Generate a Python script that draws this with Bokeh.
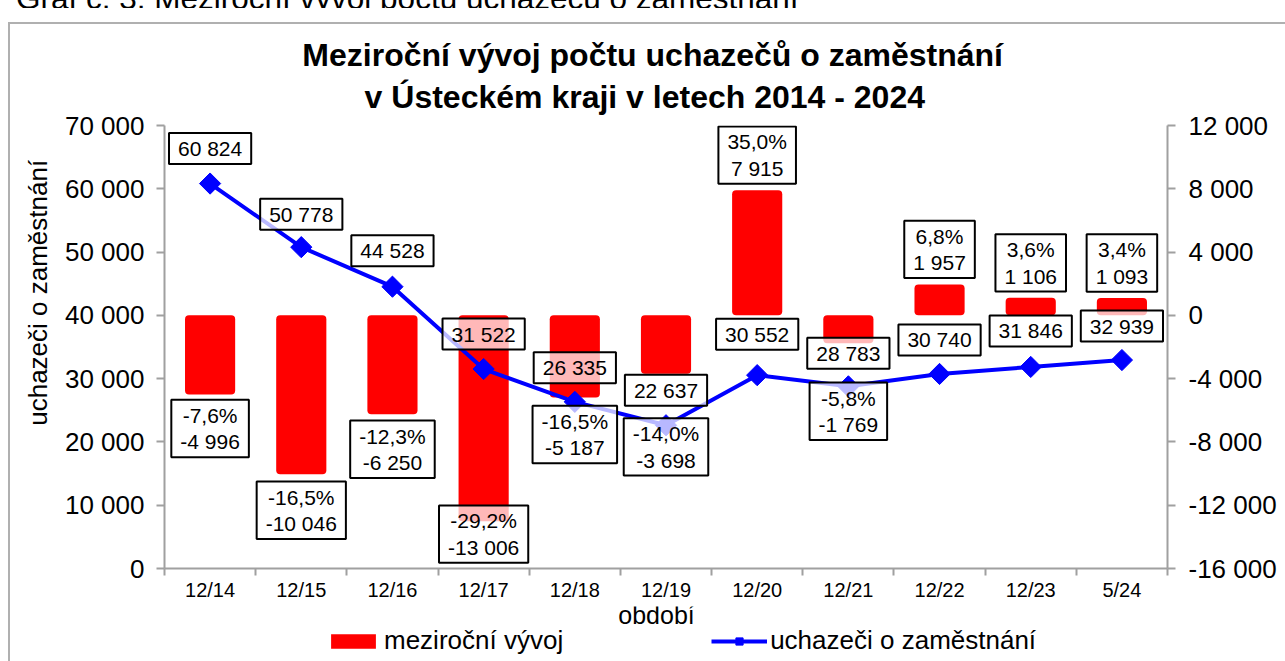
import math
from bokeh.plotting import figure
from bokeh.layouts import column
from bokeh.models import (Range1d, LinearAxis, FixedTicker, CustomJSTickFormatter,
                          ColumnDataSource, Legend, LegendItem, Title, Div, Label)
from bokeh.core.properties import value
from bokeh.embed import file_html
from bokeh.resources import INLINE

# ---- data ----
categories = ["12/14", "12/15", "12/16", "12/17", "12/18", "12/19",
              "12/20", "12/21", "12/22", "12/23", "5/24"]
uchazeci = [60824, 50778, 44528, 31522, 26335, 22637, 30552, 28783, 30740, 31846, 32939]
mezirocni = [-4996, -10046, -6250, -13006, -5187, -3698, 7915, -1769, 1957, 1106, 1093]
procenta = ["-7,6%", "-16,5%", "-12,3%", "-29,2%", "-16,5%", "-14,0%",
            "35,0%", "-5,8%", "6,8%", "3,6%", "3,4%"]
left_ticks = [0, 10000, 20000, 30000, 40000, 50000, 60000, 70000]
right_ticks = [-16000, -12000, -8000, -4000, 0, 4000, 8000, 12000]
header = "Graf č. 3: Meziroční vývoj počtu uchazečů o zaměstnání"
title1 = "Meziroční vývoj počtu uchazečů o zaměstnání"
title2 = "v Ústeckém kraji v letech 2014 - 2024"
y_label = "uchazeči o zaměstnání"
x_label = "období"
legend_bars = "meziroční vývoj"
legend_line = "uchazeči o zaměstnání"

# ---- label placement (screen px, positive = down) ----
line_label_dy = [-35, -33, -36, -35, -34, -35, -41, -33, -34, -36, -34]
bar_label_dy = [34, 36, 35, 13, 37, 73, -35, 68, -35, -35, -35]

FONT = "Liberation Sans"
NB = "\u00a0"
BORDER = "2px solid #b0b0b0"
RED, BLUE = "#FF0000", "#0000FF"

def fmt(v):
    return f"{v:,}".replace(",", " ")

n = len(categories)
xc = [i + 0.5 for i in range(n)]

src = ColumnDataSource(dict(
    x=xc, cat=categories, val=uchazeci, chg=mezirocni,
    val_txt=[fmt(v) for v in uchazeci],
    bar_txt=[f"{p}\n{fmt(c)}" for p, c in zip(procenta, mezirocni)],
    ldy=line_label_dy, bdy=bar_label_dy,
))

p = figure(frame_width=1001, frame_height=441, x_range=Range1d(0, n), y_range=Range1d(0, 70000),
           output_backend="svg", toolbar_location=None,
           min_border_left=154, min_border_right=120, min_border_top=101, min_border_bottom=40)
p.margin = (14, 0, 0, 8)
p.styles = {"border-top": BORDER, "border-left": BORDER}
p.title.visible = False
p.xgrid.visible = False
p.ygrid.visible = False
p.outline_line_color = None
p.background_fill_color = "white"
p.border_fill_color = "white"

p.extra_y_ranges = {"chg": Range1d(-16000, 12000)}

fmt_js = CustomJSTickFormatter(code="return tick.toFixed(0).replace(/\\B(?=(\\d{3})+(?!\\d))/g, ' ');")

AX_COL = "#a0a0a0"

def style_y(ax):
    ax.axis_line_color = AX_COL
    ax.axis_line_width = 2
    ax.major_tick_line_color = AX_COL
    ax.major_tick_line_width = 2
    ax.major_tick_out = 8
    ax.major_tick_in = 0
    ax.minor_tick_line_color = None
    ax.major_label_text_font = FONT
    ax.major_label_text_font_size = "26px"
    ax.major_label_text_color = "black"
    ax.major_label_standoff = 12
    ax.axis_label_text_font = FONT
    ax.axis_label_text_font_size = "26px"
    ax.axis_label_text_font_style = "normal"
    ax.axis_label_text_color = "black"

ya = p.yaxis[0]
ya.ticker = FixedTicker(ticks=left_ticks)
ya.formatter = fmt_js
# leading no-break spaces shift the centred label upward, as in the reference
ya.axis_label = NB * 15 + y_label
style_y(ya)
ya.axis_label_standoff = 9

ra = LinearAxis(y_range_name="chg", ticker=FixedTicker(ticks=right_ticks), formatter=fmt_js)
style_y(ra)
ra.major_label_standoff = 13
p.add_layout(ra, "right")

xa = p.xaxis[0]
xa.ticker = FixedTicker(ticks=xc, minor_ticks=list(range(n + 1)))
xa.major_label_overrides = {x: c for x, c in zip(xc, categories)}
xa.axis_line_color = AX_COL
xa.axis_line_width = 2
xa.major_tick_line_color = None
xa.major_tick_out = 0
xa.major_tick_in = 0
xa.minor_tick_line_color = AX_COL
xa.minor_tick_line_width = 2
xa.minor_tick_out = 7
xa.minor_tick_in = 0
xa.major_label_text_font = FONT
xa.major_label_text_font_size = "20px"
xa.major_label_text_color = "black"
xa.major_label_standoff = 3

bars = p.vbar(x="x", top="chg", bottom=0, width=0.55, source=src, y_range_name="chg",
              fill_color=RED, line_color=None, border_radius=4)

ln = p.line(x="x", y="val", source=src, line_color=BLUE, line_width=4)
mk = p.scatter(x="x", y="val", source=src, marker="square", angle=math.pi / 4, size=15,
               fill_color=BLUE, line_color=BLUE)

box = dict(text_font=value(FONT), text_font_size="21px", text_color="black",
           text_align="center", text_baseline="middle",
           background_fill_color="white", background_fill_alpha=0.72,
           border_line_color="black", border_line_width=2,
           padding=dict(left=9, right=9, top=4, bottom=4))
p.text(x="x", y="val", text="val_txt", y_offset="ldy", source=src, **box)
p.text(x="x", y="chg", text="bar_txt", y_offset="bdy", source=src, y_range_name="chg",
       text_line_height=1.15, **box)

# two-line title; no-break spaces place each line as in the reference
ttl = Title(text=title1 + NB * 3 + "\n" + NB * 7 + title2, align="center", text_color="black",
            text_font=FONT, text_font_size="32px", text_font_style="bold",
            text_line_height=1.16, standoff=21)
p.add_layout(ttl, "above")

# ---- bottom strip: x-axis title and the legend (its frame lines up with the chart frame) ----
lf = figure(width=1275, height=55, x_range=Range1d(100, 101), y_range=Range1d(1e6, 1e6 + 1),
            x_axis_type=None, y_axis_type=None, toolbar_location=None,
            output_backend="svg", min_border=0)
lf.margin = (0, 0, 0, 8)
lf.styles = {"border-left": BORDER}
lf.outline_line_color = None
lf.title.visible = False
lf.background_fill_color = "white"
lf.border_fill_color = "white"

# legend proxies: same series, drawn outside this strip's visible ranges
lb = lf.vbar(x="x", top="chg", bottom=0, width=0.55, source=src, fill_color=RED,
             line_color=None, border_radius=3)
ll = lf.line(x="x", y="val", source=src, line_color=BLUE, line_width=4)
lm = lf.scatter(x="x", y="val", source=src, marker="square", angle=math.pi / 4, size=15,
                fill_color=BLUE, line_color=BLUE)

lf.add_layout(Label(x=492, y=47, x_units="screen", y_units="screen", text=x_label,
                    text_align="center", text_baseline="alphabetic",
                    text_font=FONT, text_font_size="25px", text_color="black"))

legend = Legend(items=[LegendItem(label=legend_bars, renderers=[lb]),
                       LegendItem(label=legend_line, renderers=[ll, lm])],
                orientation="horizontal", location=(161, 5),
                label_text_font=FONT, label_text_font_size="26px", label_text_color="black",
                glyph_width=56, glyph_height=18, spacing=148, label_standoff=3,
                padding=0, margin=0, border_line_color=None, background_fill_alpha=0)
lf.add_layout(legend, "center")

head = Div(text=('<div style="position:relative; top:-24px; left:16px; white-space:nowrap; '
                 'font-family:\'Liberation Sans\'; font-size:31.5px; color:black;">' + header + '</div>'),
           width=1285, height=8, margin=0, styles={"overflow": "hidden"})

layout = column(head, p, lf, spacing=0)
open("out.html", "w").write(file_html(layout, INLINE))
